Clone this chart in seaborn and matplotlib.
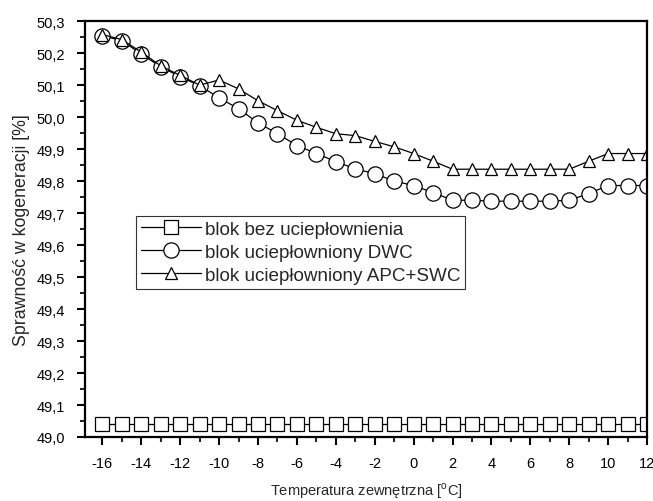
import numpy as np
import pandas as pd
import matplotlib
matplotlib.use("Agg")
import matplotlib.pyplot as plt
from matplotlib.ticker import FuncFormatter, MultipleLocator
import seaborn as sns

temps = list(range(-16, 13))

bezUciepl = [49.04] * len(temps)

dwc = [50.254, 50.239, 50.197, 50.157, 50.126, 50.098, 50.060, 50.026, 49.982,
       49.948, 49.911, 49.886, 49.861, 49.838, 49.823, 49.800, 49.786, 49.764,
       49.740, 49.740, 49.737, 49.737, 49.737, 49.737, 49.740, 49.761, 49.786,
       49.786, 49.786]

apcSwc = [50.258, 50.242, 50.203, 50.160, 50.130, 50.100, 50.116, 50.088, 50.051,
          50.020, 49.990, 49.968, 49.948, 49.942, 49.924, 49.907, 49.886, 49.862,
          49.837, 49.837, 49.837, 49.837, 49.837, 49.837, 49.837, 49.862, 49.886,
          49.886, 49.886]

labels = ["blok bez uciepłownienia",
          "blok uciepłowniony DWC",
          "blok uciepłowniony APC+SWC"]

sns.set_style("ticks")
plt.rcParams["font.family"] = ["Liberation Sans", "DejaVu Sans"]
plt.rcParams["axes.unicode_minus"] = False
plt.rcParams["mathtext.fontset"] = "custom"
plt.rcParams["mathtext.rm"] = "Liberation Sans"

fig = plt.figure(figsize=(6.53, 5.02), dpi=100)
ax = fig.add_axes([0.130, 0.1275, 0.861, 0.8285])

common = dict(color="black", linewidth=0.9, markerfacecolor="white",
              markeredgecolor="black", markeredgewidth=0.9)
sns.lineplot(x=temps, y=bezUciepl, ax=ax, marker="s", markersize=10,
             label=labels[0], **common)
sns.lineplot(x=temps, y=dwc, ax=ax, marker="o", markersize=11,
             label=labels[1], **common)
sns.lineplot(x=temps, y=apcSwc, ax=ax, marker="^", markersize=9,
             label=labels[2], **common)

ax.set_xlim(-16.9, 12.0)
ax.set_ylim(49.0, 50.3)
ax.xaxis.set_major_locator(MultipleLocator(2))
ax.xaxis.set_minor_locator(MultipleLocator(1))
ax.yaxis.set_major_locator(MultipleLocator(0.1))
ax.yaxis.set_minor_locator(MultipleLocator(0.05))
ax.yaxis.set_major_formatter(FuncFormatter(lambda v, p: f"{v:.1f}".replace(".", ",")))
ax.xaxis.set_major_formatter(FuncFormatter(lambda v, p: f"{v:.0f}"))

ax.tick_params(which="major", direction="out", length=6, width=1.5,
               labelsize=10.5, colors="black", pad=8)
ax.tick_params(which="minor", direction="out", length=3.5, width=1.5)
for s in ax.spines.values():
    s.set_linewidth(1.6)
    s.set_color("black")
    s.set_visible(True)

ax.set_xlabel(r"Temperatura zewnętrzna [$^{\mathrm{o}}$C]", fontsize=10.5, labelpad=7)
ax.set_ylabel("Sprawność w kogeneracji [%]", fontsize=12.8, labelpad=5)

leg = ax.legend(loc="upper left", bbox_to_anchor=(0.091, 0.531), borderaxespad=0,
                fontsize=13.6, handlelength=3.2, handletextpad=0.2, labelspacing=0.3,
                frameon=True, fancybox=False, borderpad=0.25)
leg.get_frame().set_edgecolor("black")
leg.get_frame().set_linewidth(0.8)

fig.savefig("out.png", dpi=100)
